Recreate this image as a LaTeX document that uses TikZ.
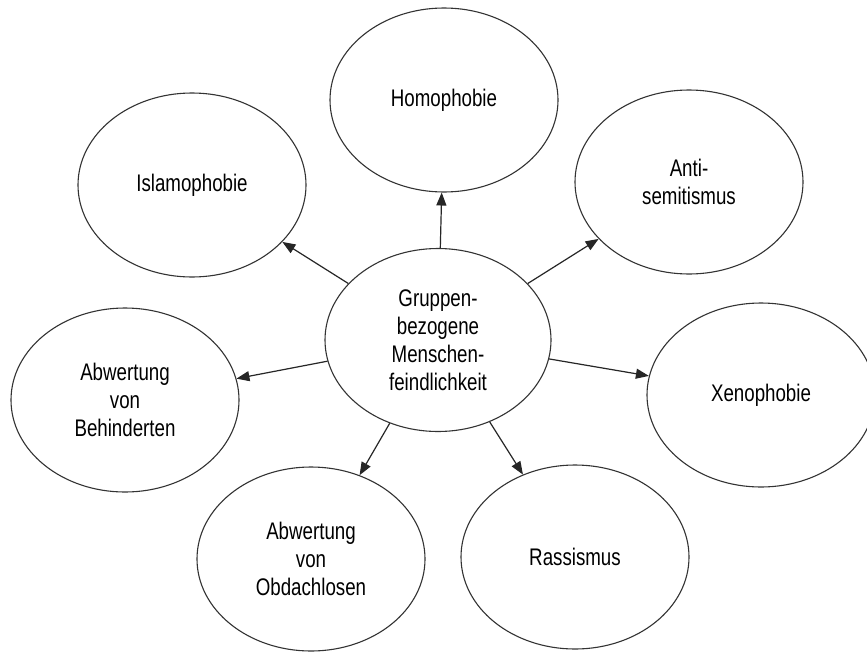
\documentclass[tikz,border=0pt]{standalone}
\usepackage{fontspec}
\setmainfont[FakeStretch=0.78]{Liberation Sans}
\usetikzlibrary{shapes.geometric,arrows.meta}

\begin{document}
\begin{tikzpicture}[x=1pt,y=-1pt,
  bubble/.style={ellipse,draw=black!80,line width=1.1pt,fill=white,
    minimum width=228pt,minimum height=184pt,inner sep=0pt,align=center,
    font=\fontsize{24}{28}\selectfont},
  link/.style={draw=black!85,line width=1.2pt,-{Triangle[length=13pt,width=10pt]}}]
\fill[white] (0,0) rectangle (867,651);
\useasboundingbox (0,0) rectangle (867,651);
\begin{scope}
\clip (0,0) rectangle (867,651);
% hub
\node[bubble,minimum width=226pt,minimum height=183pt] (hub) at (438,340)
  {Gruppen-\\bezogene\\Menschen-\\feindlichkeit};
% surrounding topics
\node[bubble] (homo)  at (444,100) {Homophobie};
\node[bubble] (islam) at (192,185) {Islamophobie};
\node[bubble] (anti)  at (689,182) {Anti-\\semitismus};
\node[bubble] (behin) at (125,400) {Abwertung\\von\\Behinderten};
\node[bubble] (xeno)  at (761,395) {Xenophobie};
\node[bubble] (obdach) at (311,559) {Abwertung\\von\\Obdachlosen};
\node[bubble] (rass)  at (575,557) {Rassismus};
% connectors
\draw[link] (hub) -- (homo);
\draw[link] (hub) -- (islam);
\draw[link] (hub) -- (anti);
\draw[link] (hub) -- (behin);
\draw[link] (hub) -- (xeno);
\draw[link] (hub) -- (obdach);
\draw[link] (hub) -- (rass);
\end{scope}
\end{tikzpicture}
\end{document}
